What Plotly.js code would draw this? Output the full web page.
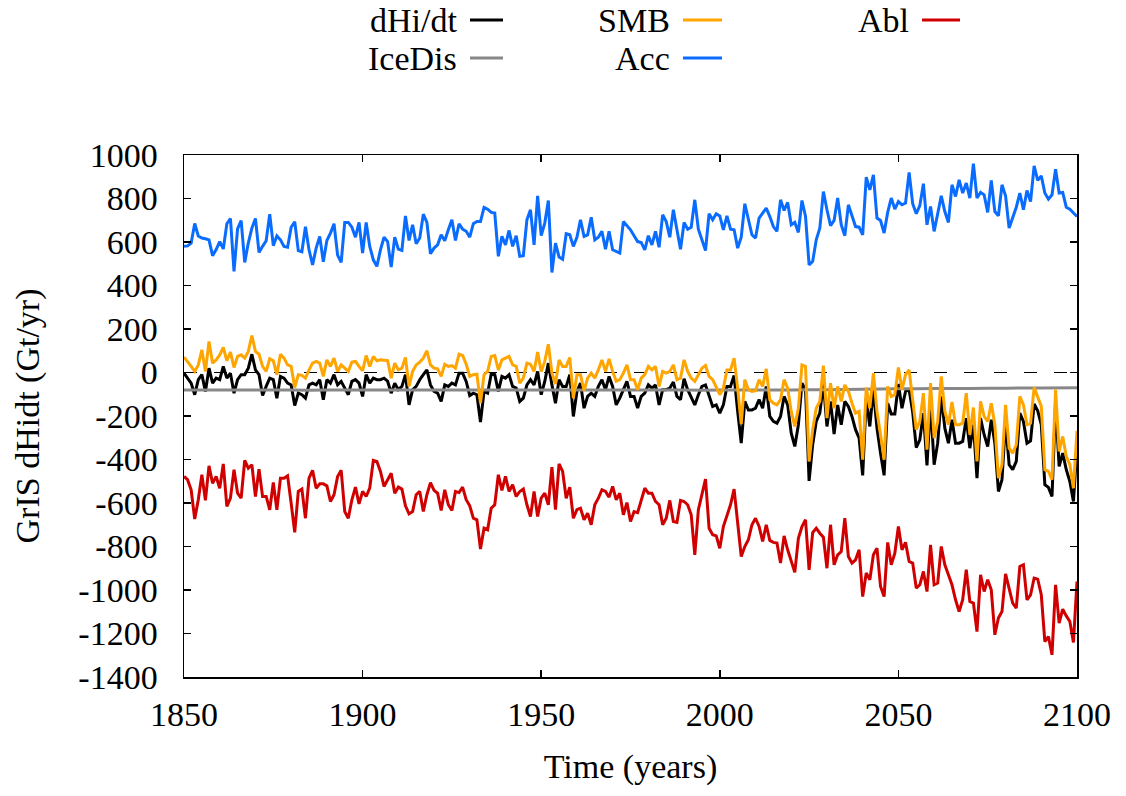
<!DOCTYPE html>
<html>
<head>
<meta charset="utf-8">
<script src="https://cdn.plot.ly/plotly-3.0.1.min.js"></script>
<style>html,body{margin:0;padding:0;background:#fff;}#chart{width:1126px;height:796px;}</style>
</head>
<body>
<div id="chart"></div>
<script>
// ---- data (Gt/yr), annual 1850-2100 ----
const startYear = 1850;
const endYear = 2100;

const acc = [
580,582,595,685,628,618,615,610,537,565,
602,568,684,708,465,660,698,506,595,664,
708,552,580,606,728,583,628,610,580,576,
668,693,560,555,670,564,495,572,625,509,
607,641,684,540,506,690,690,668,622,690,
549,690,580,518,488,564,622,602,485,622,
567,561,720,607,679,592,618,728,690,546,
572,587,633,606,656,702,607,684,659,649,
622,684,694,694,759,751,736,733,534,626,
587,653,580,629,534,537,702,748,587,812,
629,687,791,460,595,531,521,638,633,580,
622,702,626,633,714,610,622,649,567,649,
564,555,549,694,675,656,629,602,598,564,
629,587,649,576,725,694,622,748,656,567,
690,659,668,794,659,610,561,730,702,730,
720,656,720,659,656,572,622,776,705,633,
618,710,733,756,717,671,649,794,745,782,
679,690,644,791,717,495,511,610,664,832,
748,675,699,802,679,629,771,725,671,668,
633,898,840,909,710,699,641,736,802,751,
786,771,779,920,776,730,767,868,679,763,
649,730,812,740,690,863,809,886,825,871,
802,960,802,828,817,736,883,740,720,863,
812,664,710,760,825,748,837,786,950,883,
904,825,797,817,935,825,828,760,751,736,
717];

const smb = [
71,51,28,5,35,104,5,143,43,58,
81,115,54,94,23,74,81,66,97,170,
97,84,28,5,63,54,-10,84,66,35,
28,-69,-10,-13,-26,12,43,51,43,-18,
58,28,66,5,35,20,5,48,51,28,
8,78,28,74,54,58,58,55,-26,43,
12,20,69,-64,5,35,48,66,100,35,
20,17,-18,38,28,32,20,84,78,38,
-18,-10,-8,-141,-10,5,74,78,12,58,
66,74,35,28,-49,-26,43,38,5,94,
5,51,130,-3,-53,58,28,28,69,-118,
-10,-10,-84,-26,-3,-26,12,58,5,63,
5,-40,-33,-3,35,-33,-33,-79,-26,-10,
28,12,28,-64,5,-3,5,35,-33,-26,
58,5,-26,-41,-10,20,32,-18,-33,-64,
-102,-72,12,12,66,-72,-237,-33,-79,-87,
-84,-33,-64,17,-125,-141,-149,-125,-33,-72,
-179,-248,-164,35,28,-409,-263,-164,-133,32,
-210,-49,-164,-64,-133,-57,-87,-141,-187,-179,
-401,-69,-164,-3,-179,-286,-401,-64,-110,-102,
23,-79,-10,12,-118,-263,-225,-95,-355,-49,
-302,-225,-18,-179,-240,-136,-240,-240,-233,-95,
-286,-161,-409,-133,-202,-225,-141,-240,-486,-424,
-149,-348,-371,-332,-110,-149,-240,-233,-69,-110,
-156,-447,-455,-493,-79,-363,-294,-386,-424,-532,
-268];

const dhidt = [
-3,-26,-49,-102,-33,-10,-87,20,-49,-26,
-33,28,-26,-3,-95,-33,-10,-10,20,84,
12,-10,-106,-64,-26,-33,-118,-18,-26,-49,
-57,-152,-95,-102,-118,-57,-49,-57,-33,-125,
-33,-49,-10,-57,-41,-72,-102,-41,-33,-49,
-110,-10,-49,-26,-33,-33,-26,-40,-95,-49,
-79,-64,-10,-149,-79,-64,-33,-10,12,-57,
-87,-95,-133,-57,-64,-49,-57,-3,-3,-41,
-106,-95,-102,-228,-87,-95,-8,-10,-87,-18,
-26,-10,-64,-72,-133,-118,-57,-33,-57,5,
-102,-41,43,-57,-141,-33,-64,-64,-10,-202,
-87,-49,-164,-110,-95,-110,-64,-33,-79,-18,
-64,-149,-118,-79,-41,-110,-110,-164,-110,-95,
-57,-72,-57,-149,-79,-79,-72,-44,-110,-125,
-29,-79,-118,-149,-102,-64,-57,-102,-156,-149,
-187,-149,-64,-64,-14,-179,-325,-133,-172,-172,
-164,-125,-164,-64,-202,-225,-233,-202,-110,-149,
-279,-340,-240,-49,-79,-498,-332,-225,-187,-49,
-248,-133,-283,-149,-240,-133,-156,-202,-263,-302,
-473,-118,-248,-79,-256,-371,-473,-141,-191,-191,
-53,-164,-87,-79,-182,-345,-309,-187,-427,-141,
-424,-325,-110,-256,-325,-217,-325,-325,-317,-210,
-348,-240,-486,-210,-286,-340,-217,-325,-547,-493,
-225,-424,-447,-409,-187,-225,-325,-314,-145,-176,
-240,-516,-528,-570,-141,-432,-371,-447,-501,-593,
-340];

const abl = [
-478,-493,-539,-674,-585,-470,-588,-429,-509,-478,
-532,-420,-616,-578,-447,-555,-578,-404,-440,-424,
-570,-444,-570,-570,-631,-506,-631,-486,-486,-475,
-601,-735,-547,-536,-670,-486,-450,-532,-512,-512,
-521,-593,-562,-478,-450,-639,-670,-585,-527,-604,
-547,-570,-532,-404,-409,-455,-524,-493,-463,-555,
-527,-536,-613,-650,-639,-562,-547,-639,-562,-506,
-542,-555,-634,-539,-608,-634,-547,-552,-527,-585,
-613,-670,-677,-812,-716,-723,-624,-608,-470,-542,
-478,-547,-516,-570,-547,-536,-608,-662,-547,-662,
-578,-555,-608,-435,-631,-420,-455,-578,-527,-670,
-631,-624,-677,-647,-700,-608,-578,-539,-547,-573,
-524,-585,-555,-654,-598,-685,-639,-644,-593,-532,
-555,-555,-593,-608,-700,-670,-588,-685,-689,-588,
-593,-608,-654,-838,-631,-555,-490,-716,-746,-751,
-808,-708,-659,-608,-536,-685,-846,-800,-769,-700,
-670,-708,-777,-700,-772,-781,-784,-876,-751,-815,
-869,-919,-762,-708,-677,-907,-736,-716,-739,-757,
-900,-700,-884,-838,-823,-670,-846,-876,-861,-815,
-1030,-922,-953,-838,-808,-984,-1030,-781,-884,-831,
-708,-815,-781,-869,-876,-991,-976,-915,-1007,-792,
-976,-968,-800,-884,-930,-976,-1045,-1099,-1045,-907,
-1053,-1060,-1191,-930,-1007,-953,-999,-1206,-1129,-1099,
-926,-999,-1060,-1083,-892,-884,-1045,-1022,-945,-950,
-1022,-1237,-1214,-1298,-976,-1152,-1088,-1119,-1145,-1241,
-961];

// ice discharge is a smooth curve; read every 10 years
const iceDisYears = [1850,1860,1870,1880,1890,1900,1910,1920,1930,1940,1950,1960,1970,1980,1990,2000,2010,2020,2030,2040,2050,2060,2070,2080,2090,2100];
const iceDis = [-80,-80,-80,-81,-81,-81,-81,-81,-81,-81,-81,-81,-81,-81,-81,-81,-80,-80,-79,-77,-75,-74,-73,-72,-71,-70];

const seriesNames = ['dHi/dt','IceDis','SMB','Acc','Abl'];
const xTicks = [1850,1900,1950,2000,2050,2100];
const yTicks = [-1400,-1200,-1000,-800,-600,-400,-200,0,200,400,600,800,1000];

// ---- build ----
const years = [];
for (let y = startYear; y <= endYear; y++) years.push(y);

const colors = {'dHi/dt':'#000000','IceDis':'#888888','SMB':'#FFA500','Acc':'#0A6CFF','Abl':'#D00000'};
const FONT = 'Liberation Serif, Times New Roman, serif';
const FS = 34;

const traces = [
  {x: years, y: dhidt, name: seriesNames[0]},
  {x: iceDisYears, y: iceDis, name: seriesNames[1], line:{shape:'spline'}},
  {x: years, y: smb, name: seriesNames[2]},
  {x: years, y: acc, name: seriesNames[3]},
  {x: years, y: abl, name: seriesNames[4]}
].map(t => Object.assign({type:'scatter', mode:'lines', hoverinfo:'x+y+name'}, t, {
  line: Object.assign({color: colors[t.name], width: 3}, t.line || {})
}));

// manual gnuplot-style key: text right-aligned, sample line to its right
const L = 184, R = 1077, T = 155, B = 677;
const px2x = p => (p - L) / (R - L);
const px2y = p => (B - p) / (B - T);
const keyItems = [
  {name:'dHi/dt', tx:459, s0:470, s1:503, py:20},
  {name:'SMB',    tx:672, s0:683, s1:722, py:20},
  {name:'Abl',    tx:911, s0:922, s1:960, py:20},
  {name:'IceDis', tx:459, s0:470, s1:503, py:58},
  {name:'Acc',    tx:672, s0:683, s1:722, py:58}
];
const annotations = keyItems.map(k => ({
  xref:'paper', yref:'paper', x: px2x(k.tx), y: px2y(k.py), xanchor:'right', yanchor:'middle',
  text: k.name, showarrow:false, font:{family:FONT, size:FS, color:'#000'}
}));
const shapes = keyItems.map(k => ({
  type:'line', xref:'paper', yref:'paper', x0: px2x(k.s0), x1: px2x(k.s1), y0: px2y(k.py), y1: px2y(k.py),
  line:{color: colors[k.name], width:3}
}));
shapes.unshift({type:'line', xref:'paper', yref:'y', x0:0, x1:1, y0:0, y1:0, layer:'below',
  line:{color:'#000', width:1.2, dash:'13px,17px'}});

const axisCommon = {
  showgrid:false, zeroline:false, showline:true, linecolor:'#000', linewidth:1.5,
  mirror:'ticks', ticks:'inside', ticklen:7, tickwidth:1.5, tickcolor:'#000',
  tickfont:{family:FONT, size:FS, color:'#000'}
};

const layout = {
  width:1126, height:796,
  margin:{l:L, r:1126-R, t:T, b:796-B, autoexpand:false},
  paper_bgcolor:'#fff', plot_bgcolor:'#fff',
  font:{family:FONT, size:FS, color:'#000'},
  showlegend:false,
  xaxis: Object.assign({}, axisCommon, {
    range:[startYear, endYear], tickvals:xTicks, ticktext:xTicks.map(String),
    ticklabelstandoff:7,
    title:{text:'Time (years)', font:{family:FONT, size:FS, color:'#000'}, standoff:22}
  }),
  yaxis: Object.assign({}, axisCommon, {
    range:[-1400, 1000], tickvals:yTicks, ticktext:yTicks.map(String),
    ticklabelstandoff:18,
    title:{text:'GrIS dHidt (Gt/yr)', font:{family:FONT, size:FS, color:'#000'}, standoff:28}
  }),
  shapes: shapes,
  annotations: annotations
};

Plotly.newPlot('chart', traces, layout, {displayModeBar:false, staticPlot:true});
</script>
</body>
</html>
